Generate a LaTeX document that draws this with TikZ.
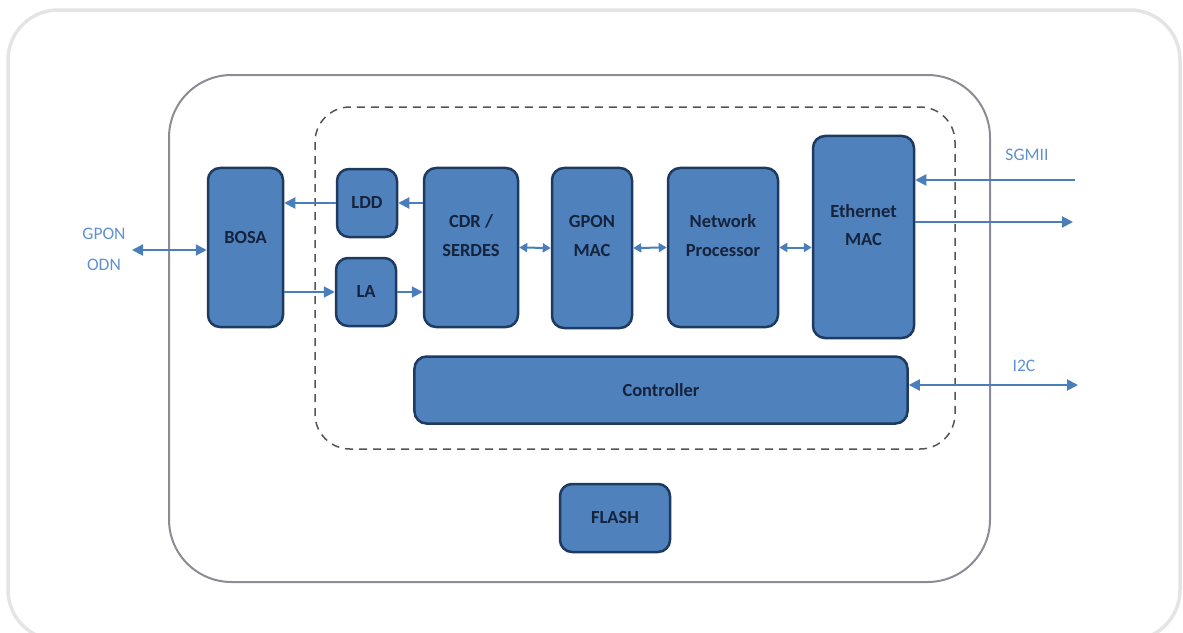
\documentclass[tikz,border=0pt]{standalone}
\usepackage{fontspec}
\setmainfont{Carlito}
\usepackage{tikz}
\usetikzlibrary{arrows.meta}
\definecolor{blkfill}{HTML}{4F81BD}
\definecolor{blkline}{HTML}{1F3A60}
\definecolor{blktext}{HTML}{15233C}
\definecolor{wire}{HTML}{4A7EBB}
\definecolor{sigtext}{HTML}{5F90D2}
\definecolor{frame}{HTML}{E4E4E4}
\definecolor{board}{HTML}{8C8C94}
\definecolor{chip}{HTML}{555555}
\tikzset{blk/.style = {shape=rectangle,draw=blkline,fill=blkfill,line width=0.5mm,
    rounded corners=2.4mm,text=blktext,align=center,
    font=\bfseries\fontsize{10.5}{16}\selectfont}}
\tikzset{raised/.style = {text depth=4.8mm}}
\tikzset{sig/.style = {text=sigtext,align=center,font=\fontsize{10}{17.5}\selectfont}}
\tikzset{edge/.style = {wire,line width=0.4mm,-{Triangle[length=2.2mm,width=2.2mm]}}}
\tikzset{dedge/.style = {wire,line width=0.4mm,{Triangle[length=2.2mm,width=2.2mm]}-{Triangle[length=2.2mm,width=2.2mm]}}}
\tikzset{bus/.style = {wire,line width=0.4mm,{Triangle[length=1.6mm,width=1.8mm]}-{Triangle[length=1.6mm,width=1.8mm]}}}

\begin{document}
\begin{tikzpicture}[x=0.2mm,y=-0.2mm]
                \useasboundingbox (0,0) rectangle (1183,633);
                % frames
                \draw[frame,line width=0.7mm,rounded corners=10mm] (8,10) rectangle (1180,640);
                \draw[board,line width=0.4mm,rounded corners=12.5mm] (169,75) rectangle (990,582);
                \draw[chip,line width=0.3mm,dash pattern=on 1.6mm off 1.2mm,rounded corners=7mm] (315,107) rectangle (955,449);
                % blocks
                \node[blk,minimum width=15mm,minimum height=31.8mm] (bosa) at (245.5,247.5) {\raisebox{0pt}[\height][4mm]{BOSA}};
                \node[blk,minimum width=12mm,minimum height=13.6mm] (ldd) at (367,203) {LDD};
                \node[blk,minimum width=12mm,minimum height=13.6mm] (la) at (366,292) {LA};
                \node[blk,raised,minimum width=18.8mm,minimum height=31.8mm] (cdr) at (471,247.5) {CDR /\\SERDES};
                \node[blk,raised,minimum width=16mm,minimum height=32mm] (gmac) at (592,248) {GPON\\MAC};
                \node[blk,raised,minimum width=22mm,minimum height=31.8mm] (np) at (723,247.5) {Network\\Processor};
                \node[blk,raised,minimum width=20.2mm,minimum height=40.4mm] (emac) at (863.5,237) {Ethernet\\MAC};
                \node[blk,minimum width=98.6mm,minimum height=13.4mm] (ctrl) at (661,390) {Controller};
                \node[blk,minimum width=22mm,minimum height=13.6mm] (flash) at (615,518) {FLASH};
                % outside signals
                \node[sig] (odnlbl) at (104,249) {GPON\\ODN};
                \node[sig] (sgmii) at (1027,155) {SGMII};
                \node[sig] (i2clbl) at (1024,366) {I2C};
                \coordinate (odn) at (132,250);
                \coordinate (sgin) at (1075,180);
                \coordinate (sgout) at (1073,222);
                \coordinate (i2c) at (1078,385);
                % connections
                \draw[dedge] (odn) -- (bosa.west |- odn);
                \draw[edge] (ldd.west) -- (bosa.east |- ldd.west);
                \draw[edge] (cdr.west |- ldd.east) -- (ldd.east);
                \draw[edge] (bosa.east |- la.west) -- (la.west);
                \draw[edge] (la.east) -- (cdr.west |- la.east);
                \draw[bus] (cdr.east) -- (gmac.west);
                \draw[bus] (gmac.east) -- (np.west);
                \draw[bus] (np.east) -- (emac.west |- np.east);
                \draw[edge] (sgin) -- (emac.east |- sgin);
                \draw[edge] (emac.east |- sgout) -- (sgout);
                \draw[dedge] (ctrl.east |- i2c) -- (i2c);
\end{tikzpicture}
\end{document}
